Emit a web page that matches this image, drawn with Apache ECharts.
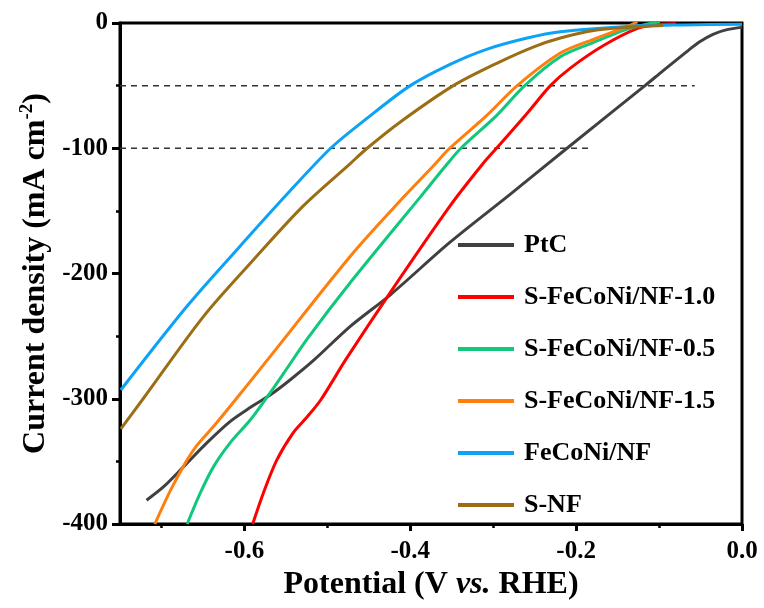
<!DOCTYPE html>
<html>
<head>
<meta charset="utf-8">
<script src="https://cdn.jsdelivr.net/npm/echarts@6/dist/echarts.min.js"></script>
<style>html,body{margin:0;padding:0;background:#fff}#c{width:764px;height:608px}</style>
</head>
<body>
<div id="c"></div>
<script>
// ---- data ----
const seriesNames = ['PtC', 'S-FeCoNi/NF-1.0', 'S-FeCoNi/NF-0.5', 'S-FeCoNi/NF-1.5', 'FeCoNi/NF', 'S-NF'];

const ptcV = [-0.718, -0.697, -0.673, -0.645, -0.617, -0.593, -0.569, -0.545, -0.516, -0.472, -0.424, -0.352, -0.28, -0.211, -0.117, -0.095, -0.065, -0.051, -0.035, -0.018, 0];
const ptcJ = [-381, -370, -354, -335, -318, -307, -297, -285, -269, -242, -217, -175, -137, -100, -50, -38, -22, -15, -9, -5.3, -3.5];

const s10V = [-0.590, -0.577, -0.561, -0.541, -0.525, -0.508, -0.478, -0.424, -0.352, -0.312, -0.296, -0.259, -0.231, -0.207, -0.167, -0.126, -0.10, -0.08];
const s10J = [-400, -375, -349, -327, -315, -301, -269, -215, -146, -112, -100, -72, -50, -36, -18, -4.3, -1, -0.5];

const s05V = [-0.669, -0.653, -0.637, -0.617, -0.593, -0.573, -0.553, -0.524, -0.472, -0.388, -0.356, -0.339, -0.296, -0.262, -0.219, -0.179, -0.139, -0.115, -0.099];
const s05J = [-400, -375, -354, -335, -317, -299, -280, -252, -207, -139, -113, -100, -74, -50, -27, -15.5, -5, -1, 1];

const s15V = [-0.708, -0.689, -0.671, -0.657, -0.637, -0.611, -0.571, -0.472, -0.408, -0.372, -0.354, -0.308, -0.271, -0.219, -0.179, -0.139, -0.126];
const s15J = [-400, -373, -351, -337, -322, -301, -268, -186, -139, -114, -101, -74, -50, -24, -13, -3, 1];

const fcnV = [-0.749, -0.669, -0.609, -0.549, -0.496, -0.452, -0.400, -0.352, -0.308, -0.259, -0.219, -0.139, -0.07, 0];
const fcnJ = [-293, -226, -181, -137, -100, -76, -50, -33, -21, -12, -7, -2.7, -1.5, -1];

const snfV = [-0.749, -0.721, -0.649, -0.589, -0.529, -0.472, -0.452, -0.412, -0.348, -0.292, -0.251, -0.219, -0.179, -0.139, -0.095];
const snfJ = [-324, -299, -234, -189, -146, -112, -100, -79, -50, -31, -19, -12, -6, -3.5, -2];

const refLevels = [-50, -100];
const refStart = -0.75;
const refEnds = [-0.057, -0.18];

const xMajor = [-0.6, -0.4, -0.2, 0.0];
const xMinor = [-0.7, -0.5, -0.3, -0.1];

// ---- style ----
const colors = ['#404040', '#ff0000', '#10c87c', '#ff7f0e', '#0ca2f5', '#9b6e14'];
const FONT = "'Liberation Serif', 'Times New Roman', serif";
const zip = (a, b) => a.map((v, i) => [v, b[i]]);
const dataSets = [zip(ptcV, ptcJ), zip(s10V, s10J), zip(s05V, s05J), zip(s15V, s15J), zip(fcnV, fcnJ), zip(snfV, snfJ)];

const series = seriesNames.map((n, i) => ({
  name: n, type: 'line', data: dataSets[i], symbol: 'none', smooth: 0.3,
  lineStyle: { color: colors[i], width: 3 }, itemStyle: { color: colors[i] }, z: 3
}));
refLevels.forEach((lv, i) => {
  series.push({
    type: 'line', data: [[refStart, lv], [refEnds[i], lv]], symbol: 'none', silent: true,
    lineStyle: { color: '#333', width: 1.5, type: [6, 5] }, z: 2
  });
});

const chart = echarts.init(document.getElementById('c'), null, { renderer: 'canvas' });
chart.setOption({
  backgroundColor: '#fff',
  animation: false,
  grid: { left: 120, right: 22, top: 23, bottom: 84, show: true, borderColor: '#000', borderWidth: 3 },
  legend: {
    data: seriesNames.map(n => ({ name: n, icon: 'rect' })), orient: 'vertical', left: 453, top: 226,
    itemWidth: 56, itemHeight: 4, itemGap: 24,
    textStyle: { fontFamily: FONT, fontWeight: 'bold', fontSize: 26, color: '#000', lineHeight: 28, padding: [0, 0, 0, 5] }
  },
  xAxis: [{
    type: 'value', min: -0.75, max: 0, position: 'bottom',
    axisLine: { show: true, onZero: false, lineStyle: { color: '#000', width: 3 } },
    axisTick: { show: true, customValues: xMajor, length: 7, lineStyle: { color: '#000', width: 3 } },
    axisLabel: { customValues: xMajor, formatter: v => v.toFixed(1), margin: 15,
      fontFamily: FONT, fontWeight: 'bold', fontSize: 25, color: '#000' },
    splitLine: { show: false },
    name: '{a|Potential (V }{i|vs.}{a| RHE)}', nameLocation: 'middle', nameGap: 42,
    nameTextStyle: { rich: {
      a: { fontFamily: FONT, fontWeight: 'bold', fontSize: 32, color: '#000' },
      i: { fontFamily: FONT, fontWeight: 'bold', fontStyle: 'italic', fontSize: 32, color: '#000' }
    } }
  }, {
    type: 'value', min: -0.75, max: 0, position: 'bottom', gridIndex: 0,
    axisLine: { show: false, onZero: false },
    axisTick: { show: true, customValues: xMinor, length: 4, lineStyle: { color: '#000', width: 2.5 } },
    axisLabel: { show: false }, splitLine: { show: false }
  }],
  yAxis: {
    type: 'value', min: -400, max: 0, interval: 100,
    axisLine: { show: true, onZero: false, lineStyle: { color: '#000', width: 3 } },
    axisTick: { show: true, length: 8, lineStyle: { color: '#000', width: 3 } },
    minorTick: { show: true, splitNumber: 2, length: 4, lineStyle: { color: '#000', width: 2.5 } },
    axisLabel: { margin: 12, fontFamily: FONT, fontWeight: 'bold', fontSize: 25, color: '#000' },
    splitLine: { show: false },
    name: '{a|Current density (mA cm}{s|-2}{a|)}', nameLocation: 'middle', nameGap: 66,
    nameTextStyle: { rich: {
      a: { fontFamily: FONT, fontWeight: 'bold', fontSize: 32, color: '#000', lineHeight: 36 },
      s: { fontFamily: FONT, fontWeight: 'bold', fontSize: 19, color: '#000', verticalAlign: 'top', lineHeight: 36, padding: [0, 0, 12, 0] }
    } }
  },
  series: series
});
</script>
</body>
</html>
